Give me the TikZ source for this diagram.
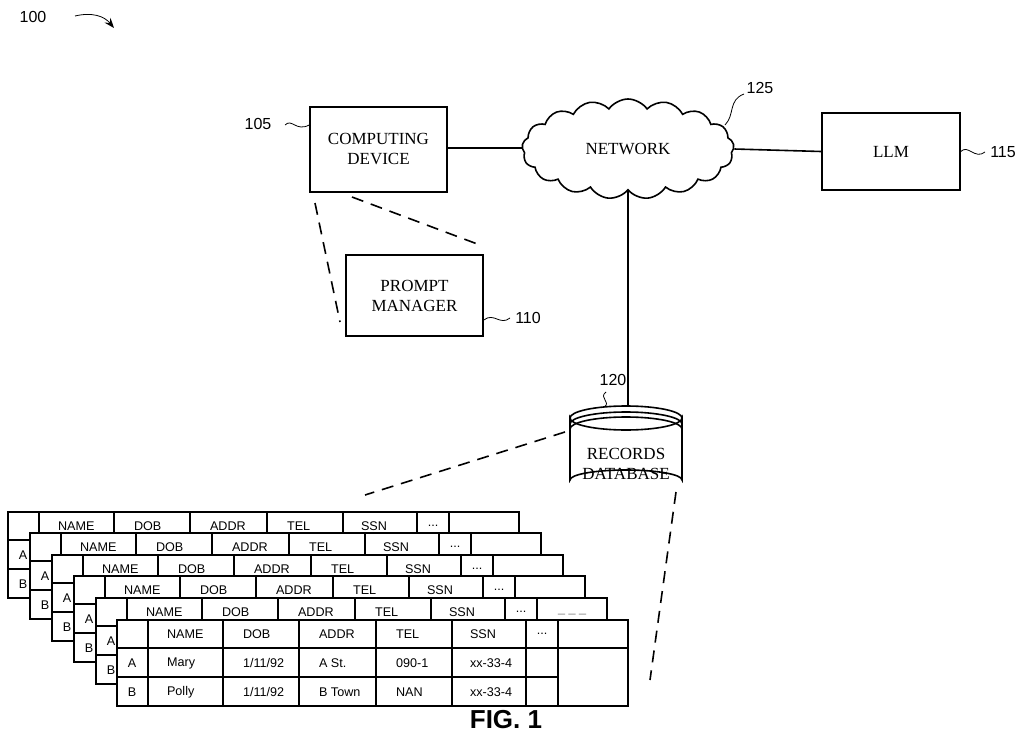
\documentclass[tikz,border=0pt]{standalone}
\usepackage{fontspec}
\setmainfont{Liberation Serif}
\setsansfont{Liberation Sans}
\usetikzlibrary{shapes.symbols, arrows.meta}

\tikzset{
  box/.style={draw, thick, fill=white, align=center, font=\fontsize{8.5}{10}\selectfont},
  refnum/.style={font=\sffamily\fontsize{8}{9}\selectfont},
  lead/.style={thin},
  dashline/.style={thick, dash pattern=on 6pt off 4pt},
  cell/.style={font=\sffamily\fontsize{6.3}{7}\selectfont, anchor=west}
}

% one stacked records table, top left corner at (#1,#2)
\newcommand{\rectable}[3]{%
  \begin{scope}[shift={(#1,#2)}]
    \fill[white] (0,0) rectangle (511,86);
    \draw[thick] (0,0) rectangle (511,86);
    \draw[thick] (0,28) -- (511,28);
    \draw[thick] (0,57) -- (441,57);
    \foreach \cx in {31,106,182,259,335,409,441}
      \draw[thick] (\cx,0) -- (\cx,86);
    \node[cell] at (43,14) {NAME};
    \node[cell] at (119,14) {DOB};
    \node[cell] at (195,14) {ADDR};
    \node[cell] at (272,14) {TEL};
    \node[cell] at (346,14) {SSN};
    \node[cell, anchor=center] at (425,14) {...};
    \node[cell, anchor=center] at (15,43) {A};
    \node[cell, anchor=center] at (15,72) {B};
    #3
  \end{scope}}

\begin{document}
\begin{tikzpicture}[x=0.5pt, y=-0.5pt]
  \useasboundingbox (0,0) rectangle (1024,739);

  % figure number
  \node[refnum] (n100) at (33,17) {100};
  \coordinate (a100) at (75,16);
  \coordinate (b100) at (114,28);
  \draw[-{Stealth[length=5pt]}] (a100) .. controls (92,12) and (104,16) .. (b100);

  % blocks
  \node[box, minimum width=68.5pt, minimum height=42.5pt] (comp) at (378.5,149.5) {COMPUTING\\DEVICE};
  \node[box, minimum width=68.5pt, minimum height=40.5pt] (prompt) at (414.5,295.5) {PROMPT\\MANAGER};
  \node[box, minimum width=69pt, minimum height=38.5pt] (llm) at (891,151.5) {LLM};
  \node[cloud, draw, thick, cloud puffs=17, cloud puff arc=110, aspect=2.2,
        minimum width=106pt, minimum height=50pt, inner sep=0pt,
        font=\fontsize{8.5}{10}\selectfont] (net) at (628,149) {NETWORK};

  \draw[thick] (comp.east |- 0,148) -- (net.west |- 0,148);
  \draw[thick] (net.east) -- (llm.west);

  % records database
  \coordinate (dbtop) at (628,406);
  \draw[thick, fill=white] (570,418) -- (570,480) arc[start angle=180, end angle=360, x radius=56, y radius=10]
    -- (682,418) arc[start angle=0, end angle=180, x radius=56, y radius=12] -- cycle;
  \draw[thick] (570,418) arc[start angle=180, end angle=360, x radius=56, y radius=12];
  \draw[thick] (570,424) arc[start angle=180, end angle=360, x radius=56, y radius=12];
  \draw[thick] (570,429) arc[start angle=180, end angle=360, x radius=56, y radius=12];
  \node[align=center, font=\fontsize{8.5}{10}\selectfont] (db) at (626,464) {RECORDS\\DATABASE};
  \draw[thick] (net.south) -- (dbtop);

  % reference numerals
  \node[refnum] (n105) at (258,124) {105};
  \draw[lead] (285,125) .. controls (292,118) and (296,132) .. (comp.west |- 0,125);
  \node[refnum] (n110) at (528,318) {110};
  \draw[lead] (prompt.east |- 0,320) .. controls (494,312) and (500,326) .. (510,318);
  \node[refnum] (n115) at (1003,152) {115};
  \draw[lead] (llm.east) .. controls (968,144) and (975,160) .. (985,152);
  \node[refnum] (n125) at (760,88) {125};
  \draw[lead] (725,125) .. controls (735,115) and (728,100) .. (744,94);
  \node[refnum] (n120) at (613,380) {120};
  \draw[lead] (606,392) .. controls (598,398) and (612,402) .. (604,407);

  % stacked tables
  \rectable{8}{512}{}
  \rectable{30}{533}{}
  \rectable{52}{555}{}
  \rectable{74}{576}{}
  \rectable{96}{598}{\node[cell, gray] at (455,16) {\_ \_ \_};}
  \rectable{117}{620}{
    \node[cell] at (43,43) {Mary};
    \node[cell] at (119,43) {1/11/92};
    \node[cell] at (195,43) {A St.};
    \node[cell] at (272,43) {090-1};
    \node[cell] at (346,43) {xx-33-4};
    \node[cell] at (43,72) {Polly};
    \node[cell] at (119,72) {1/11/92};
    \node[cell] at (195,72) {B Town};
    \node[cell] at (272,72) {NAN};
    \node[cell] at (346,72) {xx-33-4};}

  % call-out lines
  \coordinate (c1) at (315,203);
  \coordinate (c2) at (340,322);
  \coordinate (c3) at (352,197);
  \coordinate (c4) at (480,245);
  \draw[dashline] (c1) -- (c2);
  \draw[dashline] (c3) -- (c4);
  \coordinate (d1) at (565,432);
  \coordinate (d2) at (365,495);
  \coordinate (d3) at (676,492);
  \coordinate (d4) at (650,680);
  \draw[dashline] (d1) -- (d2);
  \draw[dashline] (d3) -- (d4);

  \node[font=\sffamily\bfseries\fontsize{13}{14}\selectfont] (fig) at (506,720) {FIG. 1};
\end{tikzpicture}
\end{document}
